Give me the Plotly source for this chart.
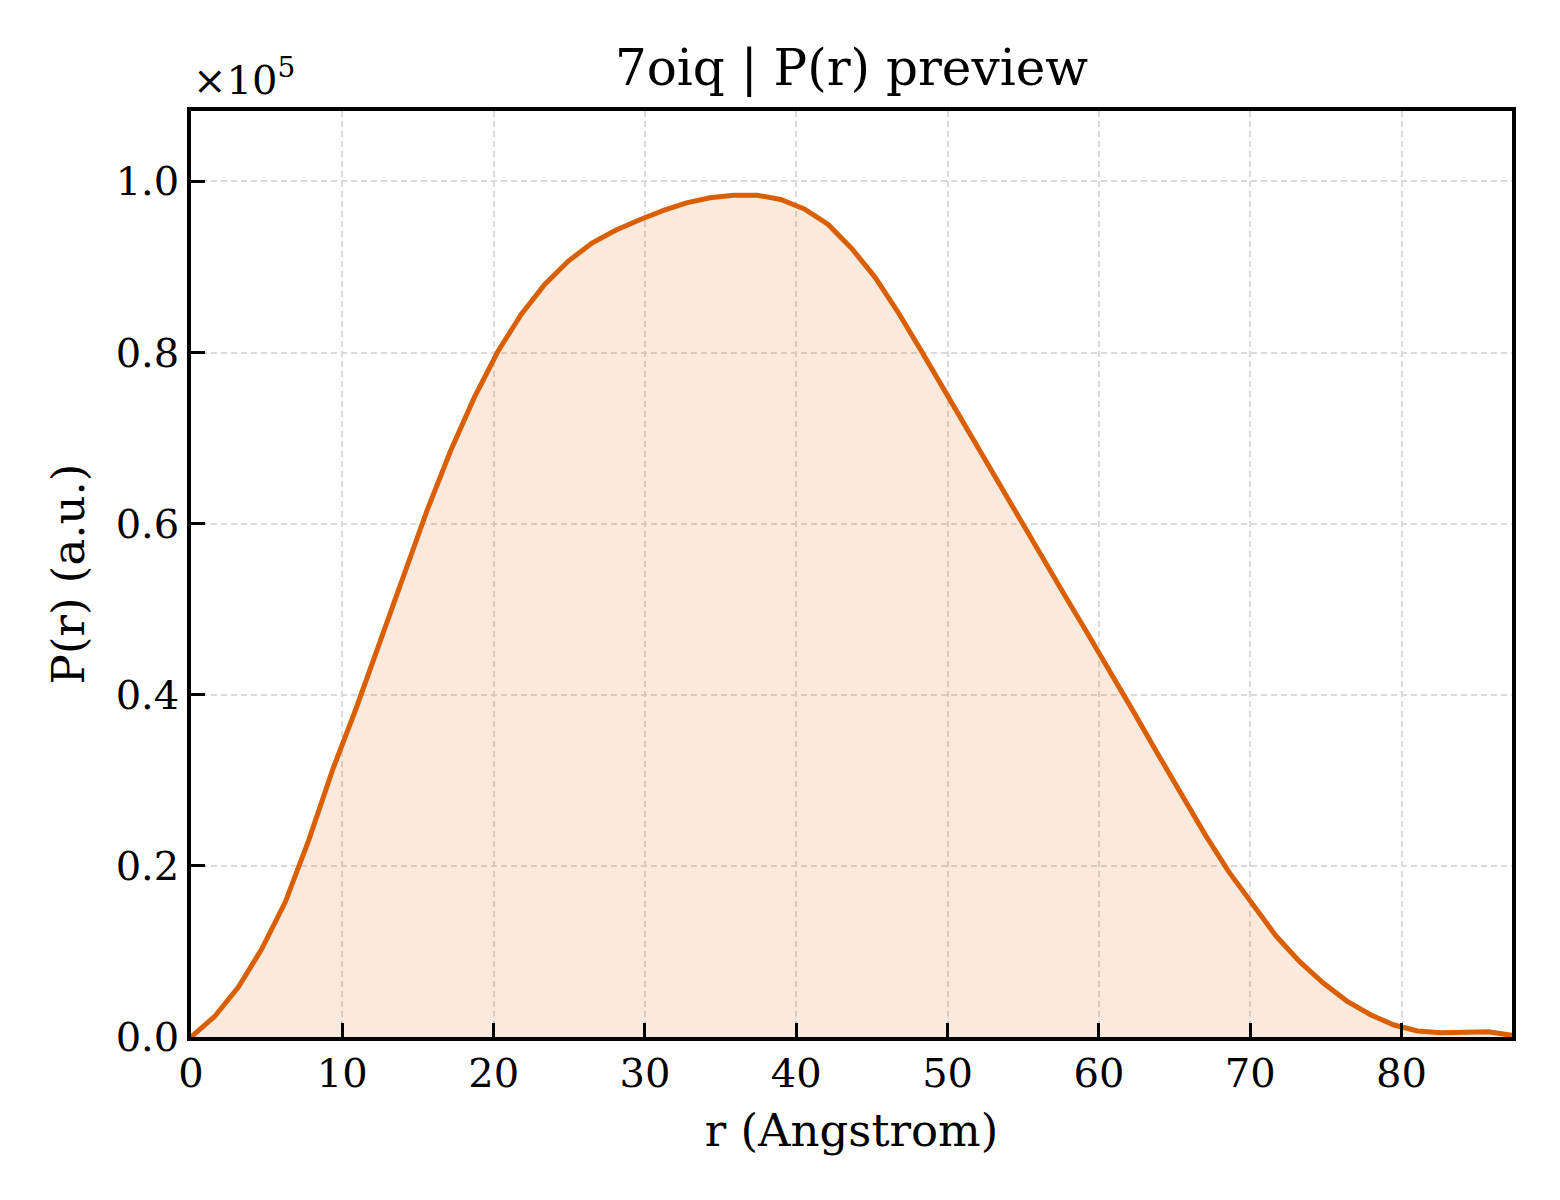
import plotly.graph_objects as go

# pair distance r (Angstrom) and P(r) in units of 1e5 (a.u.)
r_values = [0.00, 1.56, 3.12, 4.68, 6.24, 7.80, 9.35, 10.91, 12.47, 14.03,
            15.59, 17.15, 18.71, 20.27, 21.83, 23.39, 24.94, 26.50, 28.06, 29.62,
            31.18, 32.74, 34.30, 35.86, 37.41, 38.97, 40.53, 42.09, 43.65, 45.21,
            46.77, 48.33, 49.89, 51.45, 53.01, 54.56, 56.12, 57.68, 59.24, 60.80,
            62.36, 63.92, 65.48, 67.04, 68.59, 70.15, 71.71, 73.27, 74.83, 76.39,
            77.95, 79.51, 81.06, 82.62, 84.18, 85.74, 87.30]
pr_values = [0.000, 0.024, 0.058, 0.103, 0.158, 0.231, 0.312, 0.384, 0.461, 0.540,
             0.615, 0.685, 0.747, 0.801, 0.845, 0.880, 0.907, 0.928, 0.943, 0.955,
             0.966, 0.975, 0.981, 0.984, 0.984, 0.979, 0.968, 0.950, 0.922, 0.888,
             0.846, 0.800, 0.753, 0.705, 0.657, 0.610, 0.564, 0.518, 0.472, 0.426,
             0.378, 0.330, 0.282, 0.236, 0.193, 0.156, 0.118, 0.088, 0.063, 0.042,
             0.026, 0.014, 0.007, 0.005, 0.005, 0.006, 0.002]
x_ticks = [0, 10, 20, 30, 40, 50, 60, 70, 80]
y_ticks = [0.0, 0.2, 0.4, 0.6, 0.8, 1.0]

title_text = "7oiq | P(r) preview"
line_color = "#d95f02"
font_name = "DejaVu Serif"

fig = go.Figure()
fig.add_trace(go.Scatter(
    x=r_values, y=pr_values, mode="lines",
    line=dict(color=line_color, width=5),
    fill="tozeroy", fillcolor="rgba(217,95,2,0.13)",
    showlegend=False,
))

axis_common = dict(
    showline=True, linecolor="black", linewidth=3.5, mirror=True,
    ticks="inside", ticklen=14, tickwidth=3.2, tickcolor="black",
    showgrid=True, gridcolor="#dadada", gridwidth=1.5, griddash="6px,4px",
    zeroline=False,
    tickfont=dict(family=font_name, size=40, color="black"),
)

fig.update_xaxes(
    range=[0, max(r_values)], tickvals=x_ticks,
    title=dict(text="r (Angstrom)", font=dict(family=font_name, size=45, color="black"), standoff=21),
    ticklabelstandoff=-2,
    **axis_common,
)
fig.update_yaxes(
    range=[0, 1.1 * max(pr_values)], tickvals=y_ticks, tickformat=".1f",
    title=dict(text="P(r) (a.u.)", font=dict(family=font_name, size=45, color="black"), standoff=18),
    ticklabelstandoff=0,
    **axis_common,
)

fig.add_annotation(
    text="×10<sup>5</sup>", xref="paper", yref="paper", x=0, y=1.0,
    xanchor="left", yanchor="bottom", yshift=6, showarrow=False,
    font=dict(family=font_name, size=40, color="black"),
)

fig.update_layout(
    width=1552, height=1192,
    margin=dict(l=183, r=48, t=103, b=163),
    paper_bgcolor="white", plot_bgcolor="white",
    title=dict(text=title_text, x=0.5435, xanchor="center", y=0.9497, yanchor="middle",
               font=dict(family=font_name, size=50, color="black")),
)

fig.write_html("out.html")
